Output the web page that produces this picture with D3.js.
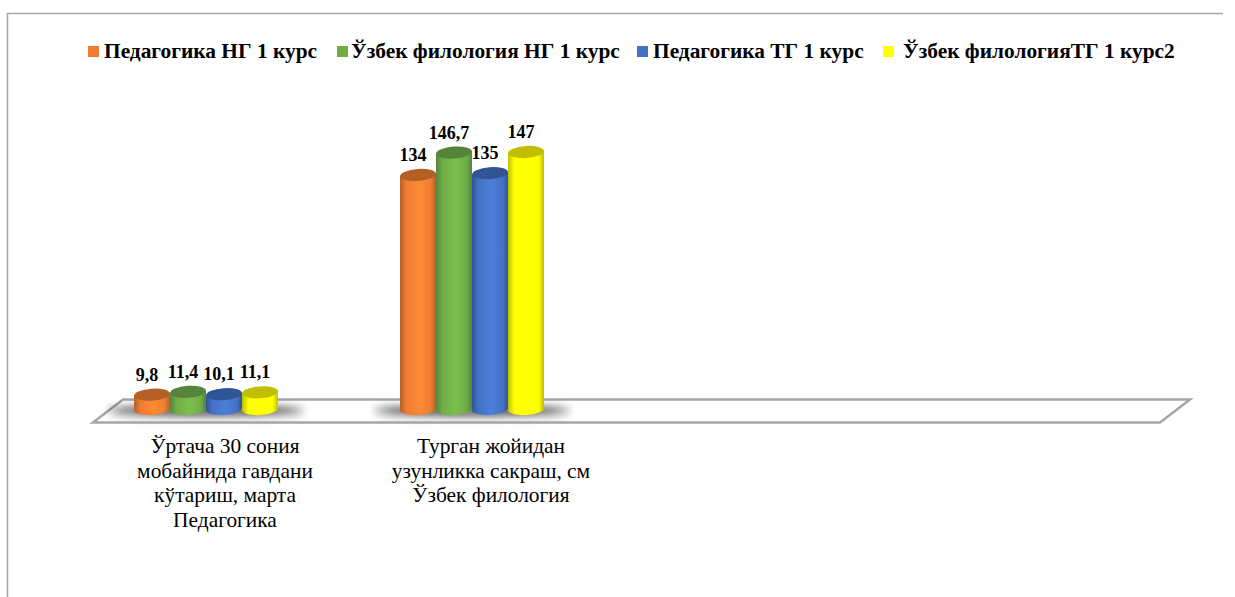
<!DOCTYPE html>
<html lang="en">
<head>
<meta charset="UTF-8">
<title>Chart</title>
<script src="https://cdnjs.cloudflare.com/ajax/libs/d3/7.8.5/d3.min.js"></script>
<style>
    html, body { margin: 0; padding: 0; background: #fff; }
    svg { display: block; }
    text { font-family: "Liberation Serif", serif; fill: #000; }
</style>
</head>
<body>
<div id="content"></div>
<script>
    const categories = ['cat1', 'cat2', 'empty1', 'empty2'];
    const categoryLines = [
        ['Ўртача 30 сония', 'мобайнида гавдани', 'кўтариш, марта', 'Педагогика'],
        ['Турган жойидан', 'узунликка сакраш, см', 'Ўзбек филология'],
        [],
        []
    ];
    const seriesNames = ['Педагогика НГ 1 курс', 'Ўзбек филология НГ 1 курс', 'Педагогика ТГ 1 курс', 'Ўзбек филологияТГ 1 курс2'];
    const seriesColors = ['#ed7d31', '#70ad47', '#4472c4', '#ffff00'];
    const seriesLight = ['#ff8a36', '#7cbf4e', '#4b7fd9', '#ffff00'];
    const seriesDark = ['#b45f25', '#55843a', '#2f5597', '#bfbf00'];
    const pedagogyNg = [9.8, 134];
    const philologyNg = [11.4, 146.7];
    const pedagogyTg = [10.1, 135];
    const philologyTg = [11.1, 147];
    const labelsText = [['9,8', '134'], ['11,4', '146,7'], ['10,1', '135'], ['11,1', '147']];
    const seriesValues = [pedagogyNg, philologyNg, pedagogyTg, philologyTg];

    const width = 1235;
    const height = 597;

    const svg = d3.select('#content').append('svg').attr('width', width).attr('height', height);
    const defs = svg.append('defs');

    //-Gradients
    seriesNames.forEach((s, i) => {
        const g = defs.append('linearGradient').attr('id', `body${i}`);
        g.append('stop').attr('offset', '0%').attr('stop-color', seriesDark[i]);
        g.append('stop').attr('offset', '18%').attr('stop-color', seriesColors[i]);
        g.append('stop').attr('offset', '55%').attr('stop-color', seriesLight[i]);
        g.append('stop').attr('offset', '85%').attr('stop-color', seriesColors[i]);
        g.append('stop').attr('offset', '100%').attr('stop-color', seriesDark[i]);
    });
    defs.append('filter').attr('id', 'blur').attr('x', '-30%').attr('y', '-300%').attr('width', '160%').attr('height', '700%')
        .append('feGaussianBlur').attr('stdDeviation', 4);

    //-Frame
    svg.append('path')
        .attr('d', 'M7.5,597V13.5H1223')
        .attr('fill', 'none')
        .attr('stroke', '#a6a6a6')
        .attr('stroke-width', 1.5);

    //-Scales
    const xGroup = d3.scaleBand().domain(categories).range([73, 1137]);
    const xBar = d3.scaleBand().domain(d3.range(seriesNames.length)).range([0, 144]);
    const y = d3.scaleLinear().domain([0, 147]).range([412, 152]);
    const groupLeft = c => xGroup(c) + (xGroup.bandwidth() - 144) / 2;

    //-Floor
    const floorBack = 399.5;
    const floorFront = 422.5;
    const floorSkew = 30;
    const [fl, fr] = [xGroup.range()[0] + 20, xGroup.range()[1] + 23];
    svg.append('path')
        .attr('d', `M${fl},${floorFront}L${fl + floorSkew},${floorBack}H${fr + floorSkew}L${fr},${floorFront}Z`)
        .attr('fill', '#fff')
        .attr('stroke', '#a6a6a6')
        .attr('stroke-width', 2.5);

    //-Shadows
    svg.selectAll('.floorGlow')
        .data(categories.slice(0, 2))
        .enter()
        .append('ellipse')
        .attr('class', 'floorGlow')
        .attr('cx', c => groupLeft(c) + 72)
        .attr('cy', 415)
        .attr('rx', 98)
        .attr('ry', 3)
        .attr('fill', '#aaa')
        .attr('opacity', 0.7)
        .attr('filter', 'url(#blur)');
    svg.selectAll('.shadow')
        .data(categories.slice(0, 2))
        .enter()
        .append('ellipse')
        .attr('class', 'shadow')
        .attr('cx', c => groupLeft(c) + 72)
        .attr('cy', 410)
        .attr('rx', 98)
        .attr('ry', 3.5)
        .attr('fill', '#111')
        .attr('opacity', 0.9)
        .attr('filter', 'url(#blur)');

    //-Bars
    const rx = xBar.bandwidth() / 2;
    const ry = 6;
    const tilt = -4;
    const dy = 1.2;
    const baseY = 409;
    seriesNames.forEach((s, i) => {
        const g = svg.append('g').attr('class', 'series');
        const bars = seriesValues[i].map((v, j) => ({ v, cat: categories[j], label: labelsText[i][j] }));
        const cx = d => groupLeft(d.cat) + xBar(i) + rx;
        g.selectAll('path')
            .data(bars)
            .enter()
            .append('path')
            .attr('d', d => `M${cx(d) - rx},${y(d.v) + dy}L${cx(d) - rx},${baseY + dy}A${rx},${ry} ${tilt} 0 0 ${cx(d) + rx},${baseY - dy}L${cx(d) + rx},${y(d.v) - dy}Z`)
            .attr('fill', `url(#body${i})`);
        g.selectAll('ellipse')
            .data(bars)
            .enter()
            .append('ellipse')
            .attr('rx', rx)
            .attr('ry', ry)
            .attr('transform', d => `translate(${cx(d)},${y(d.v)}) rotate(${tilt})`)
            .attr('fill', seriesDark[i]);
    });

    //-Data labels, drawn last so the bars never cover them
    seriesNames.forEach((s, i) => {
        svg.append('g').selectAll('text')
            .data(seriesValues[i].map((v, j) => ({ v, cat: categories[j], label: labelsText[i][j] })))
            .enter()
            .append('text')
            .attr('x', d => groupLeft(d.cat) + xBar(i) + rx - 5)
            .attr('y', d => y(d.v) - 14)
            .attr('text-anchor', 'middle')
            .style('font-size', '18px')
            .style('font-weight', 'bold')
            .text(d => d.label);
    });

    //-Category labels
    categories.forEach((c, i) => {
        const t = svg.append('text')
            .attr('text-anchor', 'middle')
            .attr('y', 453)
            .style('font-size', '21.4px');
        categoryLines[i].forEach((line, k) => {
            t.append('tspan')
                .attr('x', xGroup(c) + xGroup.bandwidth() / 2 + 19)
                .attr('dy', k ? 24.6 : 0)
                .text(line);
        });
    });

    //-Legend
    const legendSquares = [88, 337, 637, 883];
    const legendTexts = [104, 351, 653, 903];
    const legend = svg.append('g').attr('id', 'legend');
    seriesNames.forEach((s, i) => {
        legend.append('rect')
            .attr('x', legendSquares[i])
            .attr('y', 46)
            .attr('width', 11)
            .attr('height', 11)
            .attr('fill', seriesColors[i]);
        legend.append('text')
            .attr('x', legendTexts[i])
            .attr('y', 58)
            .style('font-size', '21.4px')
            .style('font-weight', 'bold')
            .text(s);
    });
</script>
</body>
</html>
